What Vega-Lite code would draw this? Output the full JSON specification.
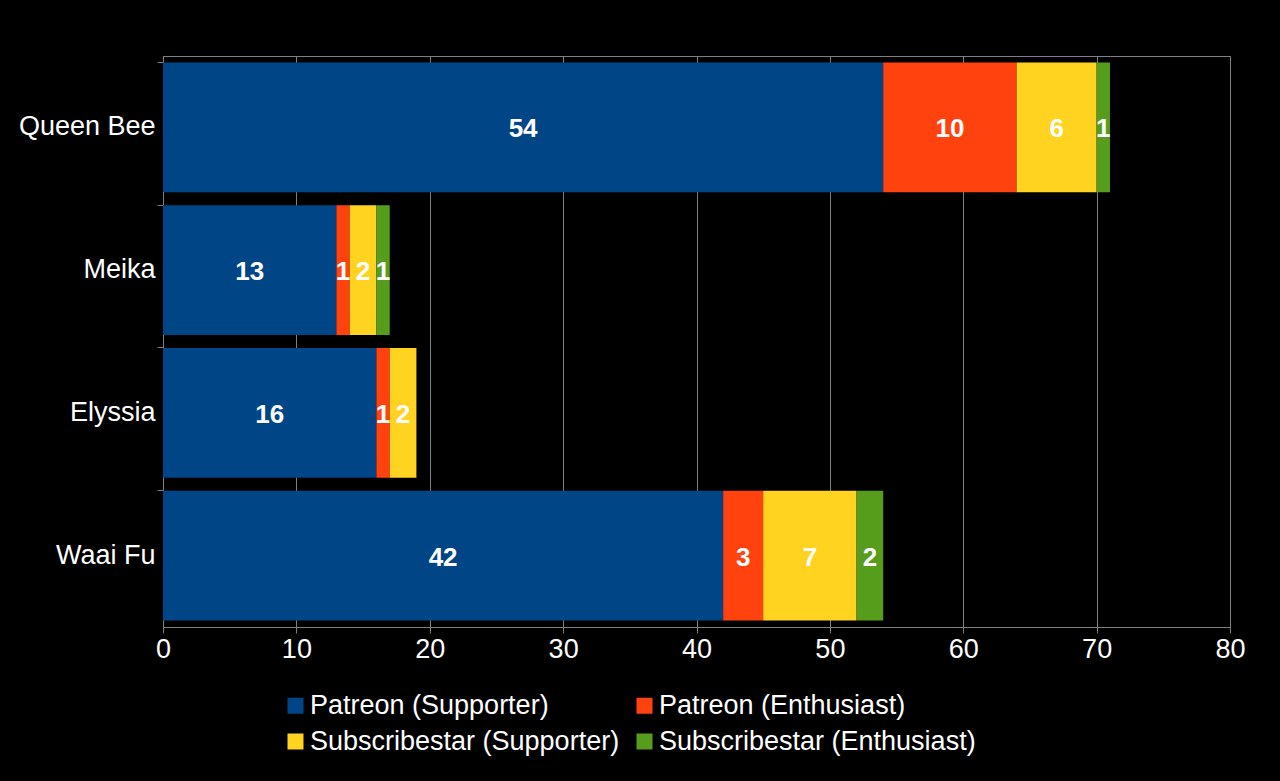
{
  "$schema": "https://vega.github.io/schema/vega-lite/v6.json",
  "width": 1067,
  "height": 571,
  "autosize": "none",
  "padding": {"left": 163, "top": 56, "right": 50, "bottom": 154},
  "background": "#000000",
  "data": {
    "values": [
      {"name": "Queen Bee", "tier": "Patreon (Supporter)", "count": 54},
      {"name": "Queen Bee", "tier": "Patreon (Enthusiast)", "count": 10},
      {"name": "Queen Bee", "tier": "Subscribestar (Supporter)", "count": 6},
      {"name": "Queen Bee", "tier": "Subscribestar (Enthusiast)", "count": 1},
      {"name": "Meika", "tier": "Patreon (Supporter)", "count": 13},
      {"name": "Meika", "tier": "Patreon (Enthusiast)", "count": 1},
      {"name": "Meika", "tier": "Subscribestar (Supporter)", "count": 2},
      {"name": "Meika", "tier": "Subscribestar (Enthusiast)", "count": 1},
      {"name": "Elyssia", "tier": "Patreon (Supporter)", "count": 16},
      {"name": "Elyssia", "tier": "Patreon (Enthusiast)", "count": 1},
      {"name": "Elyssia", "tier": "Subscribestar (Supporter)", "count": 2},
      {"name": "Waai Fu", "tier": "Patreon (Supporter)", "count": 42},
      {"name": "Waai Fu", "tier": "Patreon (Enthusiast)", "count": 3},
      {"name": "Waai Fu", "tier": "Subscribestar (Supporter)", "count": 7},
      {"name": "Waai Fu", "tier": "Subscribestar (Enthusiast)", "count": 2}
    ]
  },
  "transform": [
    {"calculate": "indexof(['Patreon (Supporter)','Patreon (Enthusiast)','Subscribestar (Supporter)','Subscribestar (Enthusiast)'], datum.tier)", "as": "k"},
    {"stack": "count", "groupby": ["name"], "sort": [{"field": "k", "order": "ascending"}], "as": ["x0", "x1"]},
    {"calculate": "(datum.x0 + datum.x1) / 2", "as": "xm"}
  ],
  "encoding": {
    "y": {
      "field": "name",
      "type": "nominal",
      "sort": ["Queen Bee", "Meika", "Elyssia", "Waai Fu"],
      "scale": {"paddingInner": 0.09, "paddingOuter": 0.045},
      "axis": {
        "title": null,
        "labelColor": "#ffffff",
        "labelFont": "Liberation Sans",
        "labelFontSize": 27,
        "labelPadding": 2,
        "bandPosition": 0,
        "tickColor": "#808080",
        "tickSize": 6,
        "domain": false
      }
    }
  },
  "layer": [
    {
      "mark": {"type": "bar"},
      "encoding": {
        "x": {
          "field": "x0",
          "type": "quantitative",
          "scale": {"domain": [0, 80]},
          "axis": {
            "title": null,
            "values": [0, 10, 20, 30, 40, 50, 60, 70, 80],
            "labelColor": "#ffffff",
            "labelFont": "Liberation Sans",
            "labelFontSize": 27,
            "labelPadding": 3,
            "labelFlush": false,
            "tickColor": "#808080",
            "tickSize": 6,
            "domainColor": "#808080",
            "grid": true,
            "gridColor": "#808080"
          }
        },
        "x2": {"field": "x1"},
        "color": {
          "field": "tier",
          "type": "nominal",
          "scale": {
            "domain": ["Patreon (Supporter)", "Patreon (Enthusiast)", "Subscribestar (Supporter)", "Subscribestar (Enthusiast)"],
            "range": ["#004586", "#ff420e", "#ffd320", "#579d1c"]
          },
          "legend": {
            "title": null,
            "orient": "none",
            "direction": "horizontal",
            "legendX": 119,
            "legendY": 636,
            "columns": 2,
            "columnPadding": 11,
            "rowPadding": 8,
            "symbolType": "square",
            "symbolSize": 256,
            "symbolStrokeWidth": 0,
            "symbolOpacity": 1,
            "labelColor": "#ffffff",
            "labelFont": "Liberation Sans",
            "labelFontSize": 27,
            "labelLimit": 400,
            "labelOffset": 1
          }
        }
      }
    },
    {
      "mark": {"type": "text", "color": "#ffffff", "font": "Liberation Sans", "fontSize": 26, "fontWeight": "bold", "baseline": "middle", "align": "center", "dy": 2},
      "encoding": {
        "x": {"field": "xm", "type": "quantitative"},
        "text": {"field": "count", "type": "quantitative"}
      }
    }
  ],
  "config": {
    "view": {"stroke": "#808080", "strokeWidth": 1}
  }
}
